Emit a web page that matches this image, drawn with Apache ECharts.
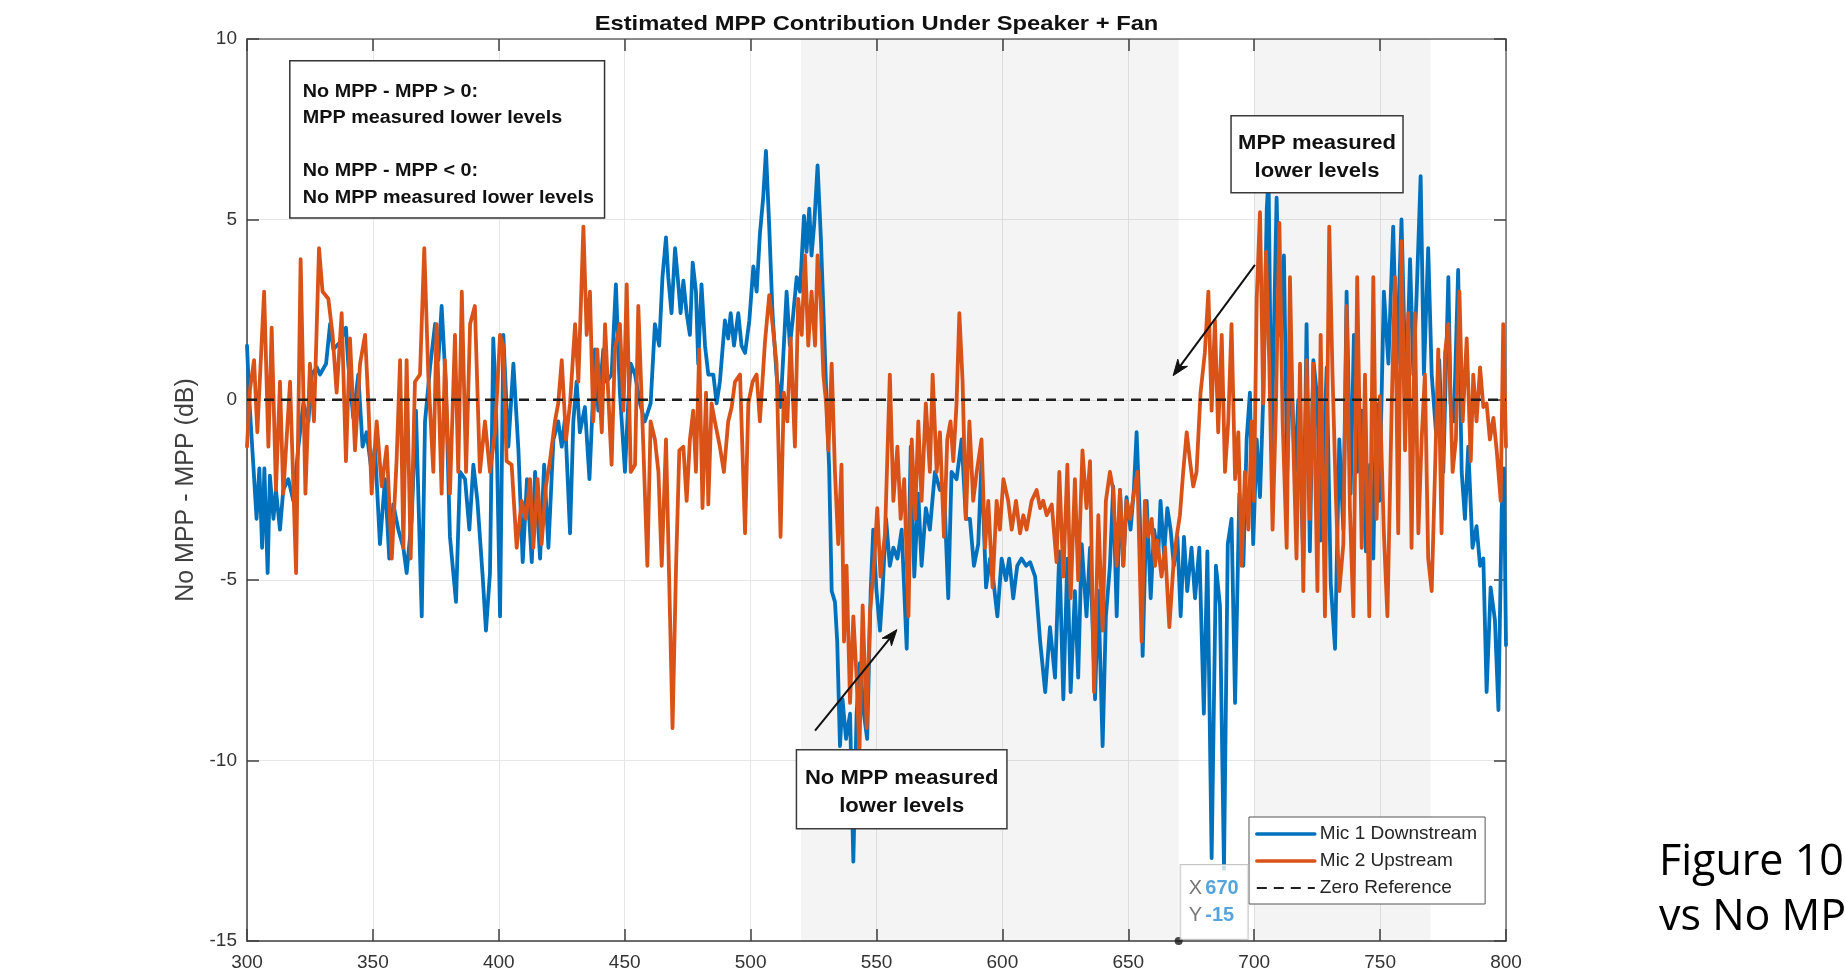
<!DOCTYPE html>
<html>
<head>
<meta charset="utf-8">
<script src="https://cdn.jsdelivr.net/npm/echarts@6/dist/echarts.min.js"></script>
<style>
html,body{margin:0;padding:0;background:#fff;}
#chart{width:1845px;height:969px;}
</style>
</head>
<body>
<div id="chart"></div>
<script>
// ---------------- DATA ----------------
const chartTitle = 'Estimated MPP Contribution Under Speaker + Fan';
const yAxisTitle = 'No MPP - MPP (dB)';
const xTickValues = [300, 350, 400, 450, 500, 550, 600, 650, 700, 750, 800];
const yTickValues = [-15, -10, -5, 0, 5, 10];
const seriesNames = ['Mic 1 Downstream', 'Mic 2 Upstream', 'Zero Reference'];

// [frequency, No MPP - MPP (dB)]
const mic1Downstream = [
[300,1.5],[301,-0.1],[302.5,-1.8],[303.8,-3.3],[304.9,-1.9],[306,-4.1],[306.9,-1.9],[308.2,-4.8],[309.1,-2.1],[310.5,-3.3],[311.5,-2.5],[313.1,-3.6],[314.4,-2.5],[316.4,-2.2],[318.4,-2.8],[320.4,-1.3],[322.4,-0.1],[324.4,-0.6],[325.7,0.7],[327.7,0.9],[329,0.7],[331.4,1.0],[333,2.1],[334.3,1.4],[337,1.6],[339.3,2.0],[340.2,1.0],[342.2,-0.5],[344.2,0.7],[345.9,-1.3],[347.5,-0.9],[349.5,-2.0],[350.8,-1.3],[352.8,-4.0],[354.8,-2.2],[356.5,-4.4],[358.1,-2.9],[360.1,-3.6],[362.1,-4.1],[363.4,-4.8],[365.4,-3.3],[367.1,-0.3],[369.4,-6.0],[370.7,-0.6],[372.7,0.9],[374.7,2.1],[376,1.1],[377.3,2.6],[378.9,0.5],[380.6,-3.8],[383,-5.6],[384.6,-2.0],[386.6,-2.2],[388.3,-3.6],[389.9,-1.8],[391.5,-2.8],[393.6,-4.9],[394.9,-6.4],[396.5,-4.8],[397.8,1.7],[398.9,-0.1],[400.5,-6.0],[401.8,1.8],[403.8,-1.3],[405.8,1.0],[407.8,-1.4],[409.5,-4.5],[411.2,-2.2],[413.1,-4.5],[414.4,-2.0],[416.4,-4.4],[418,-1.8],[419.7,-4.1],[421.7,-1.1],[423.6,-0.6],[425,-1.3],[426.3,-0.5],[428.3,-3.7],[429.6,-0.6],[430.9,0.5],[432.2,-0.9],[434.2,-0.2],[436,-2.2],[437.3,-0.1],[438.2,1.4],[439.5,-0.3],[441.5,1.4],[442.8,0.5],[444.8,0.7],[446.5,3.2],[448.1,0.2],[450.1,-2.0],[451.4,-0.1],[452.4,1.0],[454.1,0.7],[456.1,-0.1],[458,-0.6],[460.3,-0.1],[462,2.1],[463.7,1.5],[465,3.4],[466.4,4.5],[467.3,3.4],[468.6,2.4],[470,4.2],[471.3,3.2],[472.2,2.4],[473.3,3.3],[474.6,2.4],[475.9,1.8],[477,3.8],[478.3,3.0],[479.2,1.0],[480.5,3.2],[481.9,1.5],[483.2,0.7],[485.2,0.7],[486.5,-0.1],[487.8,0.5],[489.8,2.2],[491.1,1.7],[492.1,2.4],[493.4,1.5],[495.1,2.4],[496.4,1.5],[497.8,1.3],[499.5,2.2],[501.1,3.7],[502.4,3.0],[503.7,4.6],[505,5.6],[506.1,6.9],[507.4,4.8],[508.7,2.4],[510.3,0.7],[511.9,-0.2],[513.2,1.5],[514.3,3.0],[515.6,1.5],[516.7,2.2],[518.3,3.4],[519.6,3.0],[521.2,5.1],[522.2,4.1],[523.3,5.3],[524.2,4.0],[525.3,4.9],[526.6,6.5],[527.9,4.5],[529.1,2.1],[530.2,-0.1],[531.2,-1.9],[532.2,-5.3],[533.5,-5.6],[534.4,-6.7],[535.5,-9.6],[536.5,-8.3],[537.9,-9.4],[539.5,-8.7],[540.8,-12.8],[542.1,-8.7],[543.4,-7.3],[545,-8.7],[546.3,-9.4],[547.7,-5.3],[548.7,-3.6],[550,-5.3],[551.4,-6.4],[552.4,-5.3],[553.8,-3.3],[555.3,-4.6],[556.7,-4.1],[558.3,-4.4],[560,-3.6],[562,-6.9],[563.6,-1.3],[565,-4.9],[566.6,-2.6],[567.9,-4.6],[569.6,-3.0],[571.2,-3.6],[573.2,-2.0],[575.2,-2.5],[576.8,-2.4],[578.5,-5.5],[579.8,-2.0],[581.8,-2.2],[583.8,-1.1],[585.5,-3.3],[587.1,-3.3],[588.7,-4.6],[590.4,-4.0],[591.7,-1.7],[593.5,-5.2],[595.1,-4.4],[596.4,-5.0],[598,-6.0],[599.7,-4.4],[601.4,-5.0],[602.7,-4.4],[604.3,-5.5],[605.9,-4.6],[607.6,-4.4],[609.4,-4.6],[611,-4.5],[613,-4.9],[615,-6.7],[617,-8.1],[618.9,-6.3],[620.9,-7.7],[622.6,-4.2],[624.2,-8.3],[625.8,-4.4],[627.1,-8.1],[628.8,-5.3],[630.1,-7.7],[631.5,-4.0],[633.4,-6.0],[634.8,-4.1],[636.8,-8.3],[638.1,-5.3],[639.8,-9.6],[641.1,-6.0],[642.7,-4.6],[644,-2.4],[645.4,-6.0],[646.7,-2.5],[648,-4.6],[649.3,-2.7],[650.9,-3.6],[652.2,-2.5],[653.3,-0.9],[654.6,-3.3],[655.7,-7.1],[657.3,-2.8],[658.9,-5.5],[660.2,-3.6],[661.9,-4.3],[662.8,-2.8],[664.2,-4.3],[665.5,-3.0],[666.8,-3.6],[668.1,-4.6],[669.5,-3.8],[670.8,-6.0],[672.1,-3.8],[673.4,-5.3],[675.1,-4.1],[676.5,-5.5],[678.2,-4.1],[680,-8.7],[681.4,-4.2],[683.1,-12.7],[684.8,-4.6],[686.4,-5.7],[688,-13.0],[689.5,-4.0],[691,-3.3],[692.4,-8.4],[694.1,-2.6],[695.7,-4.6],[697,-1.1],[698.3,0.2],[699.6,-4.0],[701,-1.1],[702.3,-2.7],[703.6,0.1],[705,5.3],[705.7,6.2],[706.9,-1.4],[708.9,5.6],[710.2,1.8],[711.8,4.0],[713.1,-2.0],[714.5,1.1],[716.2,-2.0],[717.5,0.0],[719.5,-4.4],[720.8,2.1],[722.1,-4.2],[723.5,1.1],[725.1,0.0],[726.4,-3.9],[728.8,0.9],[730.4,-5.1],[732.1,-6.9],[733.8,-1.1],[735.4,-3.6],[736.7,3.0],[738.3,-2.6],[739.6,1.8],[740.9,-2.0],[742.7,-0.3],[744.4,-4.2],[746,-1.8],[747.3,-4.4],[748.4,-0.1],[749.7,-2.8],[751.5,3.0],[753.3,1.0],[755.2,4.8],[756.6,1.0],[758.5,5.0],[760.3,-0.1],[761.9,3.9],[763.2,0.7],[764.5,2.9],[766.1,6.2],[767.4,0.7],[769.1,4.2],[770.5,0.7],[772.2,-0.9],[773.5,1.1],[775.1,-2.0],[777.1,3.4],[778,-0.1],[779.3,-0.6],[781,3.6],[782.4,-2.0],[783.7,-3.3],[785,-1.3],[786.7,-4.1],[788.3,-3.5],[789.7,-4.6],[791,-4.4],[792.3,-8.1],[793.9,-5.2],[795.6,-6.1],[797,-8.6],[798.3,-3.0],[799.2,-1.9],[800,-6.8]
];

const mic2Upstream = [
[300,-1.3],[301.2,0.3],[302.8,1.1],[304.1,-0.9],[306.8,3.0],[308.5,-1.3],[309.8,2.0],[311.5,-2.5],[313.1,0.5],[314.4,-2.6],[317.1,0.5],[319.5,-4.8],[321.3,3.9],[323.2,-2.6],[325,1.0],[326.6,-0.6],[328.6,4.2],[330,3.0],[332.3,2.8],[334,1.8],[335.6,0.2],[337.6,2.4],[339.3,-1.7],[340.9,1.7],[342.9,-1.4],[344.9,1.0],[346.9,1.8],[348.2,-0.1],[349.5,-2.6],[351.5,-0.6],[353.5,-2.4],[355.5,-1.3],[357.5,-4.4],[359.4,-1.7],[360.8,1.1],[362.1,-4.1],[363.4,1.1],[365,-4.4],[366.7,0.5],[368.7,0.7],[370.4,4.2],[372,0.7],[374,-2.0],[375.3,2.1],[377.3,-2.6],[378.6,1.1],[380.6,-2.6],[382.6,1.8],[383.9,-2.0],[385.3,3.0],[387,-2.0],[388.6,2.1],[390.5,2.6],[392.5,-2.0],[394.5,-0.6],[396.5,-2.0],[398.5,-0.9],[400.5,1.8],[401.8,1.5],[403.1,-1.7],[405.1,-1.8],[407.1,-4.1],[409.1,-2.8],[410.8,-3.3],[412.4,-2.2],[413.7,-4.1],[415.4,-2.2],[417,-4.0],[418.7,-2.4],[420.3,-1.7],[422.3,-0.6],[423.6,-0.1],[425,1.1],[426.7,-1.1],[428.3,-0.1],[430.3,2.1],[431.6,0.5],[433.6,4.8],[434.9,1.8],[436.2,3.0],[437.5,-0.6],[439.1,1.4],[440.9,-0.9],[442.2,2.1],[443.5,0.1],[444.8,-1.8],[446.1,1.4],[448.1,2.1],[449.5,-0.3],[450.8,3.2],[452.4,-2.0],[454.1,-1.8],[455.4,2.6],[457.4,-1.3],[459,-4.6],[460.3,-0.6],[462,-1.1],[463.4,-2.0],[464.7,-4.6],[466.4,-1.1],[468,-6.0],[469,-9.1],[470.4,-4.6],[471.7,-1.4],[473.3,-1.3],[474.6,-2.8],[475.9,-1.1],[477.2,-0.3],[478.3,-2.0],[479.6,1.4],[480.9,-3.0],[482.3,0.2],[483.2,-2.9],[484.5,-0.1],[485.8,-0.6],[487.8,-1.3],[489.4,-2.0],[491.1,-0.6],[492.5,-0.2],[493.8,0.5],[495.8,0.7],[497.8,-3.7],[499.1,-0.1],[500.8,0.5],[502.4,0.7],[503.7,-0.6],[505.7,1.6],[507.4,2.9],[508.7,2.1],[510.3,1.0],[511.9,-3.8],[513.2,0.2],[514.6,-0.6],[515.9,1.7],[517.6,-1.3],[518.9,2.8],[520.3,1.8],[521.6,4.0],[522.9,1.5],[524.2,3.0],[525.6,1.5],[526.6,4.0],[527.8,2.8],[528.9,0.7],[530,-0.1],[530.9,-1.4],[532.2,1.0],[533.5,-2.0],[534.8,-4.0],[536.1,-1.8],[537.1,-6.7],[538.1,-4.6],[539.5,-8.4],[540.8,-6.0],[542.1,-7.7],[543.2,-9.8],[544.5,-5.7],[546.1,-9.1],[547.4,-5.9],[549,-4.6],[550.3,-3.0],[551.6,-4.9],[553.4,-3.7],[555.3,0.7],[556.7,-2.8],[558.3,-1.3],[559.6,-3.3],[561,-2.2],[562.7,-6.0],[564,-1.1],[565.3,-3.3],[566.6,-0.6],[567.9,-2.8],[569.6,-0.1],[571.2,-2.0],[572.3,0.7],[573.9,-2.0],[575.2,-0.9],[576.8,-3.8],[578.1,-1.1],[579.4,-0.6],[580.5,-1.7],[581.8,-0.1],[582.9,2.4],[584.2,0.5],[585.5,-3.3],[586.9,-0.6],[588.4,-2.8],[589.8,-2.0],[591.7,-1.1],[593.1,-4.1],[594.4,-2.8],[596.1,-5.2],[597.7,-2.8],[599,-3.6],[600.4,-2.2],[602.3,-2.8],[603.7,-3.6],[605.4,-2.8],[607,-3.7],[608.3,-3.2],[609.6,-3.6],[611.6,-2.8],[613.6,-2.5],[615,-3.0],[616.2,-2.8],[617.6,-3.2],[619.6,-2.9],[621.5,-4.5],[622.6,-2.0],[624.2,-4.9],[625.8,-1.8],[627.1,-5.5],[628.8,-2.2],[630.1,-5.0],[631.8,-1.4],[633.4,-3.0],[634.8,-1.7],[636.4,-8.1],[638.1,-3.2],[639.8,-6.4],[641.1,-2.8],[642.7,-2.0],[644,-2.5],[645.4,-4.6],[646.7,-2.5],[648,-4.6],[649.3,-2.8],[650.7,-3.3],[652.2,-2.6],[653.6,-2.0],[655.3,-6.7],[656.6,-2.8],[657.9,-3.8],[659.3,-3.3],[660.6,-4.6],[661.5,-3.9],[663.2,-4.9],[664.6,-4.1],[666.3,-6.3],[667.9,-4.6],[669.2,-3.8],[670.5,-3.2],[671.8,-2.0],[673.2,-0.9],[674.5,-1.7],[675.8,-2.4],[677.1,-2.0],[678.7,0.2],[680.4,1.3],[681.8,3.0],[683.1,-0.3],[684.4,2.2],[685.7,-0.9],[687.1,1.8],[688.4,-2.0],[689.7,-0.6],[691,2.1],[692.4,-2.2],[693.7,-0.9],[695,-4.6],[696.3,-2.0],[697.7,-3.6],[699,-0.6],[699.9,-2.8],[701,2.8],[702.3,5.2],[703.6,-0.1],[704.7,4.1],[706,1.0],[707.3,-3.6],[708.6,-0.3],[710,4.9],[711.3,-0.6],[712.9,-4.1],[714.2,3.4],[715.5,-1.1],[716.8,-4.4],[718.2,1.0],[719.5,-5.3],[720.8,1.1],[722.1,-3.3],[723.5,1.0],[725.1,-5.3],[726.4,1.8],[728.1,-6.0],[729.8,4.8],[731.1,0.7],[732.5,-2.8],[733.8,-5.3],[735.4,-4.0],[736.7,2.6],[738,-3.0],[739.4,-6.0],[740.9,3.4],[742.7,-4.1],[744,0.7],[745.7,-6.0],[747.3,3.4],[748.6,-3.3],[749.9,0.1],[751.5,-3.7],[752.9,-6.0],[754.6,-0.2],[755.9,3.4],[757.2,-3.7],[758.5,4.4],[759.9,-1.4],[761.2,2.4],[762.5,-4.1],[763.8,2.4],[765.2,-3.7],[766.5,-1.1],[767.8,0.7],[769.1,-4.4],[770.5,-5.3],[771.8,-2.0],[773.1,1.4],[774.4,-3.7],[775.8,1.3],[777.1,2.1],[778.8,-2.0],[780.1,-1.1],[781.5,3.0],[782.8,-0.6],[784.4,1.7],[786,-1.7],[787,0.7],[788.3,-0.6],[789.7,0.9],[791,-0.2],[792.3,-0.1],[793.6,-1.1],[795,-0.5],[796.3,-1.4],[797.9,-2.8],[798.9,2.1],[800,-1.3]
];

const zeroReference = [[300, 0], [800, 0]];
const shadedBands = [[520, 670], [700, 770]];
const datatipPoint = [670, -15];

const noteBoxLines = ['No MPP - MPP > 0:', 'MPP measured lower levels', '', 'No MPP - MPP < 0:', 'No MPP measured lower levels'];
const upperCalloutLines = ['MPP measured', 'lower levels'];
const lowerCalloutLines = ['No MPP measured', 'lower levels'];
const sideTextLines = ['Figure 10', 'vs No MP'];

// ---------------- LAYOUT (annotation anchors in data units) ----------------
const noteBoxAnchor = { from: [317.0, 9.40], to: [442.0, 5.04] };
const upperCalloutAnchor = { from: [690.8, 7.87], to: [759.1, 5.74], arrowFrom: [700.3, 3.74], arrowTo: [667.8, 0.67] };
const lowerCalloutAnchor = { from: [518.2, -9.70], to: [601.8, -11.89], arrowFrom: [525.6, -9.17], arrowTo: [558.1, -6.37] };

const FONT = '"Liberation Sans", Arial, Helvetica, sans-serif';
const AXIS = '#404040';
const BLUE = '#0072BD';
const ORANGE = '#D95319';
const STRETCH = 1.13;
const LINE_W = 3.8;

const chart = echarts.init(document.getElementById('chart'), null, { renderer: 'canvas' });

const xMin = xTickValues[0], xMax = xTickValues[xTickValues.length - 1], xStep = xTickValues[1] - xTickValues[0];
const yMin = yTickValues[0], yMax = yTickValues[yTickValues.length - 1], yStep = yTickValues[1] - yTickValues[0];

function boxAxis(extra) {
  return Object.assign({
    type: 'value',
    axisLine: { show: true, onZero: false, lineStyle: { color: AXIS, width: 1.5 } },
    axisTick: { show: true, inside: true, length: 12, lineStyle: { color: AXIS, width: 1.5 } },
    axisLabel: { show: false },
    splitLine: { show: false }
  }, extra);
}

const option = {
  animation: false,
  backgroundColor: '#ffffff',
  grid: { left: 247, right: 339, top: 39, bottom: 28, containLabel: false, outerBoundsMode: 'none' },
  xAxis: [
    boxAxis({
      min: xMin, max: xMax, interval: xStep, position: 'bottom',
      axisLabel: { show: true, margin: 12, fontSize: 19, color: '#333', fontFamily: FONT },
      splitLine: { show: true, lineStyle: { color: '#e6e6e6', width: 1 } }
    }),
    boxAxis({ min: xMin, max: xMax, interval: xStep, position: 'top',
      axisLine: { show: true, onZero: false, lineStyle: { color: '#6a6a6a', width: 1.5 } } })
  ],
  yAxis: [
    boxAxis({
      min: yMin, max: yMax, interval: yStep, position: 'left',
      name: yAxisTitle, nameLocation: 'middle', nameGap: 47, nameRotate: 90,
      nameTextStyle: { fontSize: 25, color: '#404040', fontFamily: FONT },
      axisLabel: { show: true, margin: 10, fontSize: 19, color: '#333', fontFamily: FONT },
      splitLine: { show: true, lineStyle: { color: '#e6e6e6', width: 1 } }
    }),
    boxAxis({ min: yMin, max: yMax, interval: yStep, position: 'right',
      axisLine: { show: true, onZero: false, lineStyle: { color: '#6a6a6a', width: 1.5 } } })
  ],
  legend: {
    data: [
      { name: seriesNames[0], lineStyle: { width: 3.6 } },
      { name: seriesNames[1], lineStyle: { width: 3.6 } },
      { name: seriesNames[2], lineStyle: { width: 2.2 } }
    ],
    orient: 'vertical', left: 1249, top: 817,
    padding: [7, 8, 6, 6], itemWidth: 58, itemHeight: 12, itemGap: 7,
    backgroundColor: '#ffffff', borderColor: '#555', borderWidth: 1, borderRadius: 0,
    selectedMode: false,
    itemStyle: { opacity: 0 },
    textStyle: { fontSize: 19, color: '#262626', fontFamily: FONT, lineHeight: 20 }
  },
  series: [
    {
      name: seriesNames[0], type: 'line', data: mic1Downstream,
      symbol: 'none', showSymbol: false, silent: true, z: 2,
      lineStyle: { color: BLUE, width: LINE_W, join: 'round', cap: 'round' }, itemStyle: { color: BLUE },
      emphasis: { disabled: true },
      markArea: {
        silent: true,
        itemStyle: { color: 'rgba(0,0,0,0.045)' },
        data: shadedBands.map(b => [{ xAxis: b[0] }, { xAxis: b[1] }])
      }
    },
    {
      name: seriesNames[1], type: 'line', data: mic2Upstream,
      symbol: 'none', showSymbol: false, silent: true, z: 3,
      lineStyle: { color: ORANGE, width: LINE_W, join: 'round', cap: 'round' }, itemStyle: { color: ORANGE },
      emphasis: { disabled: true }
    },
    {
      name: seriesNames[2], type: 'line', data: zeroReference,
      symbol: 'none', showSymbol: false, silent: true, z: 4,
      lineStyle: { color: '#1f1f1f', width: 2.4, type: [10, 7] }, itemStyle: { color: '#1f1f1f' },
      emphasis: { disabled: true }
    },
    {
      name: 'datatip', type: 'scatter', data: [datatipPoint],
      symbol: 'circle', symbolSize: 8, clip: false, silent: true, z: 10,
      itemStyle: { color: '#1a1a1a' },
      emphasis: { disabled: true },
      label: {
        show: true, position: [6, -72],
        formatter: p => '{k|X} {v|' + p.value[0] + '}\n{k|Y} {v|' + p.value[1] + '}',
        backgroundColor: 'rgba(255,255,255,0.96)', borderColor: '#b8b8b8', borderWidth: 1,
        padding: [10, 9, 10, 8],
        rich: {
          k: { fontSize: 20, color: '#555', fontFamily: FONT, lineHeight: 27 },
          v: { fontSize: 20, color: '#2b8fd4', fontWeight: 'bold', fontFamily: FONT, lineHeight: 27 }
        }
      }
    }
  ]
};

chart.setOption(option);

// ---------------- ANNOTATIONS (positioned through the axes) ----------------
const P = p => chart.convertToPixel({ seriesIndex: 0 }, p);

function arrow(fromData, toData) {
  const s = P(fromData), e = P(toData);
  const dx = e[0] - s[0], dy = e[1] - s[1], len = Math.hypot(dx, dy);
  const ux = dx / len, uy = dy / len, nx = -uy, ny = ux;
  const L = 16, W = 6;
  const bx = e[0] - ux * L, by = e[1] - uy * L;
  const mx = e[0] - ux * L * 0.7, my = e[1] - uy * L * 0.7;
  return [
    { type: 'line', shape: { x1: s[0], y1: s[1], x2: mx, y2: my }, style: { stroke: '#111', lineWidth: 2 }, z: 30, silent: true },
    { type: 'polygon', shape: { points: [[e[0], e[1]], [bx + nx * W, by + ny * W], [mx, my], [bx - nx * W, by - ny * W]] },
      style: { fill: '#111', stroke: '#111', lineWidth: 1 }, z: 30, silent: true }
  ];
}

function callout(anchor, lines) {
  const a = P(anchor.from), b = P(anchor.to);
  return [
    { type: 'rect', shape: { x: a[0], y: a[1], width: b[0] - a[0], height: b[1] - a[1] },
      style: { fill: '#fff', stroke: '#3a3a3a', lineWidth: 1.5 }, z: 30, silent: true },
    { type: 'text', x: (a[0] + b[0]) / 2, y: (a[1] + b[1]) / 2 + 3, scaleX: STRETCH, z: 31, silent: true,
      style: { text: lines.join('\n'), fontSize: 19.5, fontWeight: 'bold', fontFamily: FONT, lineHeight: 28,
        fill: '#111', align: 'center', verticalAlign: 'middle' } }
  ].concat(arrow(anchor.arrowFrom, anchor.arrowTo));
}

const nb1 = P(noteBoxAnchor.from), nb2 = P(noteBoxAnchor.to);
const topLeft = P([xMin, yMax]), topRight = P([xMax, yMax]);
const SIDE_FONT = '"Open Sans", "Noto Sans", sans-serif';

const graphics = [
  { type: 'text', x: (topLeft[0] + topRight[0]) / 2, y: topLeft[1] - 15, scaleX: STRETCH, z: 30, silent: true,
    style: { text: chartTitle, fontSize: 21, fontWeight: 'bold', fontFamily: FONT, fill: '#111', align: 'center', verticalAlign: 'middle' } },
  { type: 'rect', shape: { x: nb1[0], y: nb1[1], width: nb2[0] - nb1[0], height: nb2[1] - nb1[1] },
    style: { fill: '#fff', stroke: '#333', lineWidth: 1.5 }, z: 30, silent: true },
  { type: 'text', x: nb1[0] + 13, y: nb1[1] + 18, scaleX: STRETCH, z: 31, silent: true,
    style: { text: noteBoxLines.join('\n'), fontSize: 17.5, fontWeight: 'bold', fontFamily: FONT, lineHeight: 26.5,
      fill: '#111', align: 'left', verticalAlign: 'top' } },
  { type: 'text', x: 1659, y: 863, z: 30, silent: true,
    style: { text: sideTextLines[0], fontSize: 43, fontFamily: SIDE_FONT, fill: '#000', align: 'left', verticalAlign: 'middle' } },
  { type: 'text', x: 1659, y: 918, z: 30, silent: true,
    style: { text: sideTextLines[1], fontSize: 43, fontFamily: SIDE_FONT, fill: '#000', align: 'left', verticalAlign: 'middle' } }
].concat(callout(upperCalloutAnchor, upperCalloutLines), callout(lowerCalloutAnchor, lowerCalloutLines));

chart.setOption({ graphic: graphics });
</script>
</body>
</html>
